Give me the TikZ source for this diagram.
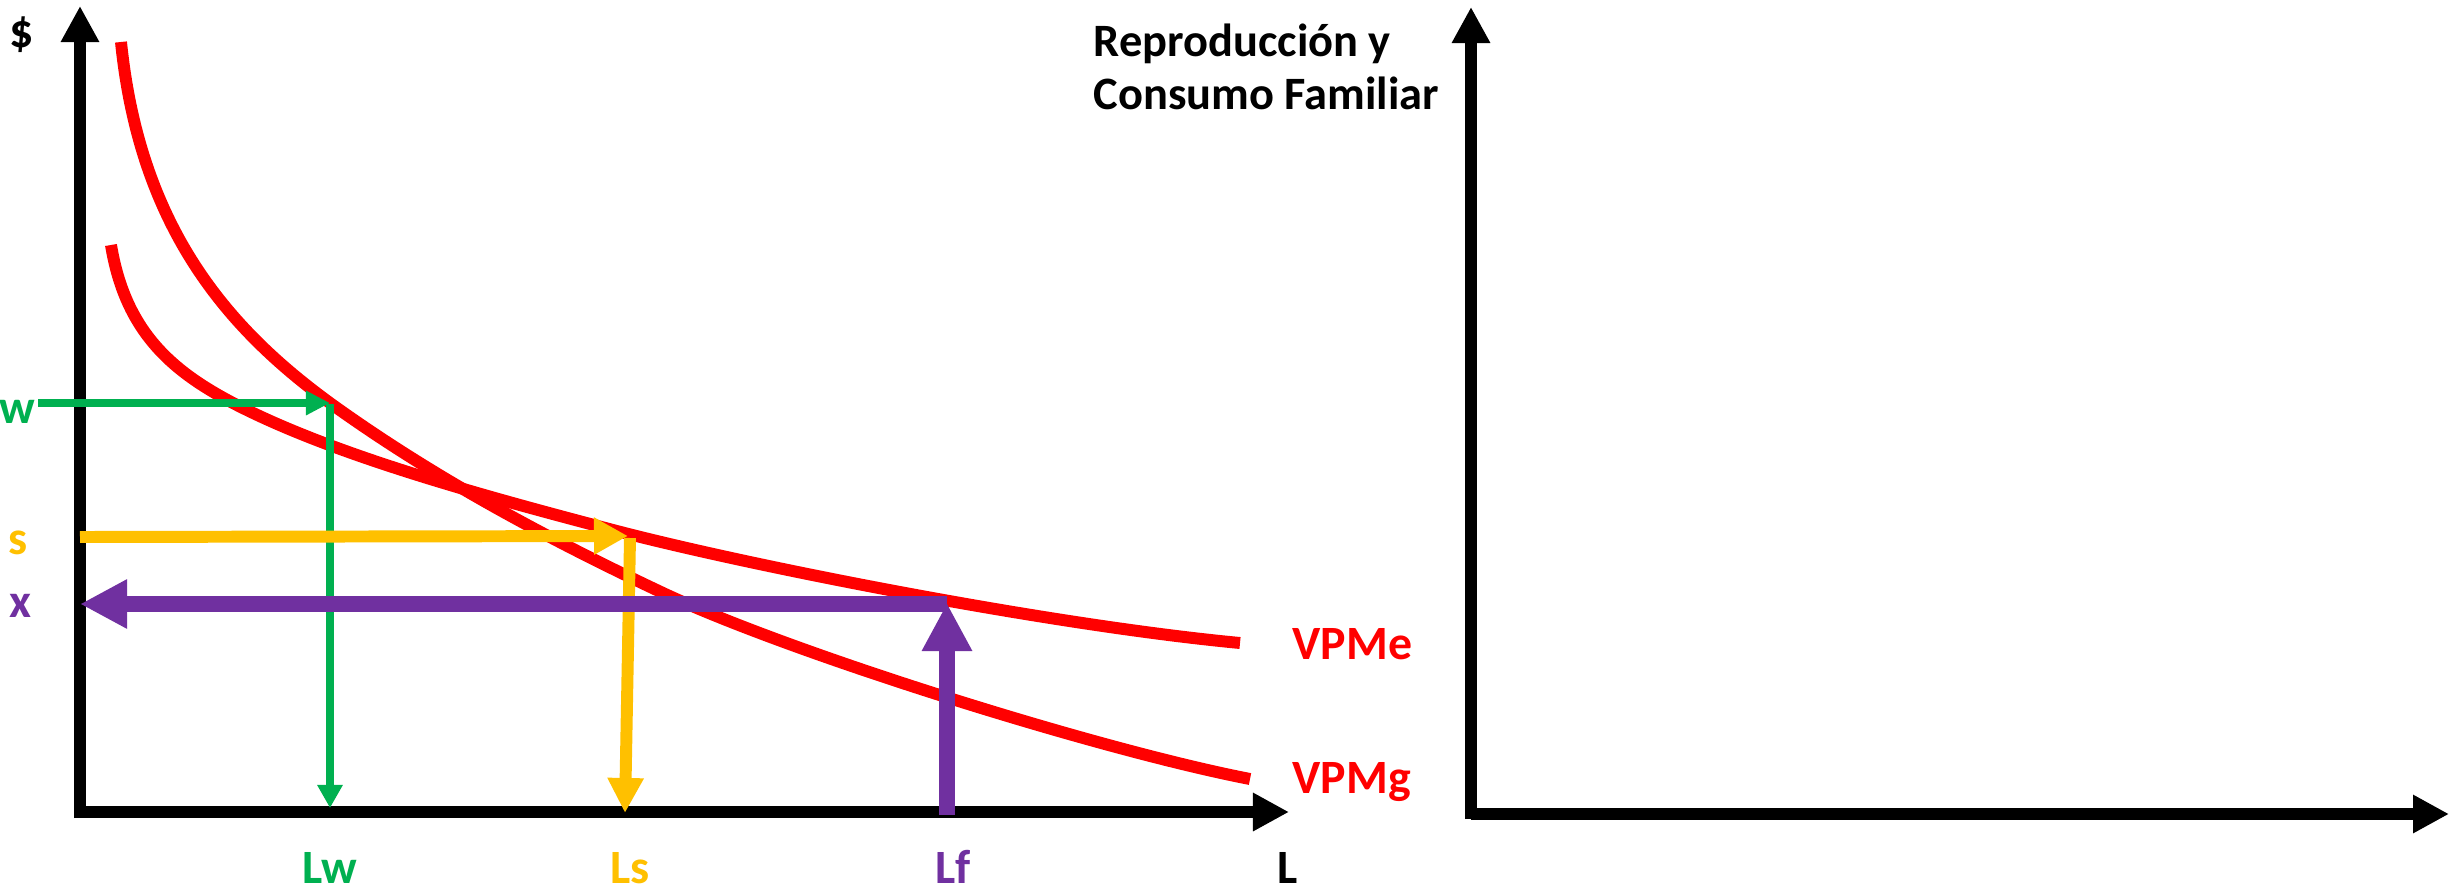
\documentclass[tikz,border=0pt]{standalone}
\usepackage{fontspec}
\setmainfont{Carlito}
\usetikzlibrary{arrows.meta}

\definecolor{lgreen}{HTML}{00B050}
\definecolor{lgold}{HTML}{FFC000}
\definecolor{lpurple}{HTML}{7030A0}
\definecolor{lred}{HTML}{FF0000}

\begin{document}
\begin{tikzpicture}[x=0.01cm,y=-0.01cm]
	\tikzstyle{every node}+=[inner sep=0pt]
	\tikzstyle{axis}=[black, line width=3.4pt, -{Triangle[length=0.36cm,width=0.36cm]}]
	\tikzstyle{curve}=[lred, line width=3.4pt]
	\tikzstyle{lbl}=[font=\bfseries\fontsize{13.6}{16}\selectfont]
	\tikzstyle{ttl}=[font=\bfseries\fontsize{13.2}{16}\selectfont, anchor=base west]
	\useasboundingbox (0,0) rectangle (2458,894);
	% axes
	\coordinate (o1) at (80,812);
	\coordinate (y1) at (80,6);
	\coordinate (x1) at (1289,812);
	\coordinate (o2) at (1471,814);
	\coordinate (y2) at (1471,7);
	\coordinate (x2) at (2449,814);
	\draw [axis] (80,818) -- (y1);
	\draw [axis] (o1) -- (x1);
	\draw [axis] (1471,819) -- (y2);
	\draw [axis] (o2) -- (x2);
	% points
	\coordinate (wl) at (38,403);
	\coordinate (wp) at (330,403);
	\coordinate (lw) at (330,808);
	\coordinate (sl) at (80,537);
	\coordinate (sp) at (628,536);
	\coordinate (ls) at (625,813);
	\coordinate (xl) at (80,604);
	\coordinate (xp) at (947,604);
	\coordinate (lf) at (947,815);
	\coordinate (fp) at (947,603);
	% curves
	\draw [curve] (121,42) .. controls (140,230) and (230,330) .. (wp)
		.. controls (430,475) and (540,535) .. (663,593)
		.. controls (793,654) and (1100,750) .. (1250,779);
	\draw [curve] (111,245) .. controls (125,330) and (170,370) .. (233,403)
		.. controls (333,455) and (480,495) .. (613,530)
		.. controls (750,566) and (1050,625) .. (1240,643);
	% arrows
	\draw [lgreen, line width=2pt, -{Triangle[length=0.24cm,width=0.23cm]}] (wl) -- (wp);
	\draw [lgreen, line width=2pt, -{Triangle[length=0.23cm,width=0.24cm]}] (330,404) -- (lw);
	\draw [lgold, line width=3.4pt, -{Triangle[length=0.34cm,width=0.35cm]}] (sl) -- (sp);
	\draw [lgold, line width=3.4pt, -{Triangle[length=0.35cm,width=0.34cm]}] (630,538) -- (ls);
	\draw [lpurple, line width=4.3pt, -{Triangle[length=0.47cm,width=0.46cm]}] (xp) -- (xl);
	\draw [lpurple, line width=4.5pt, -{Triangle[length=0.48cm,width=0.47cm]}] (lf) -- (fp);
	% labels
	\node [lbl, anchor=base] (dol) at (22,48) {\$};
	\node [lbl, text=lgreen, anchor=base] (w) at (17,423) {w};
	\node [lbl, text=lgold, anchor=base] (s) at (18,554) {s};
	\node [lbl, text=lpurple, anchor=base] (x) at (20,617) {x};
	\node [lbl, text=lgreen, anchor=base] (tlw) at (330,883) {Lw};
	\node [lbl, text=lgold, anchor=base] (tls) at (630,883) {Ls};
	\node [lbl, text=lpurple, anchor=base] (tlf) at (953,883) {Lf};
	\node [lbl, anchor=base] (tl) at (1288,883) {L};
	\node [lbl, text=lred, anchor=base west] (vpme) at (1292,659) {VPMe};
	\node [lbl, text=lred, anchor=base west] (vpmg) at (1292,793) {VPMg};
	\node [ttl] (t1) at (1093,57) {Reproducción y};
	\node [ttl] (t2) at (1093,110) {Consumo Familiar};
\end{tikzpicture}
\end{document}
